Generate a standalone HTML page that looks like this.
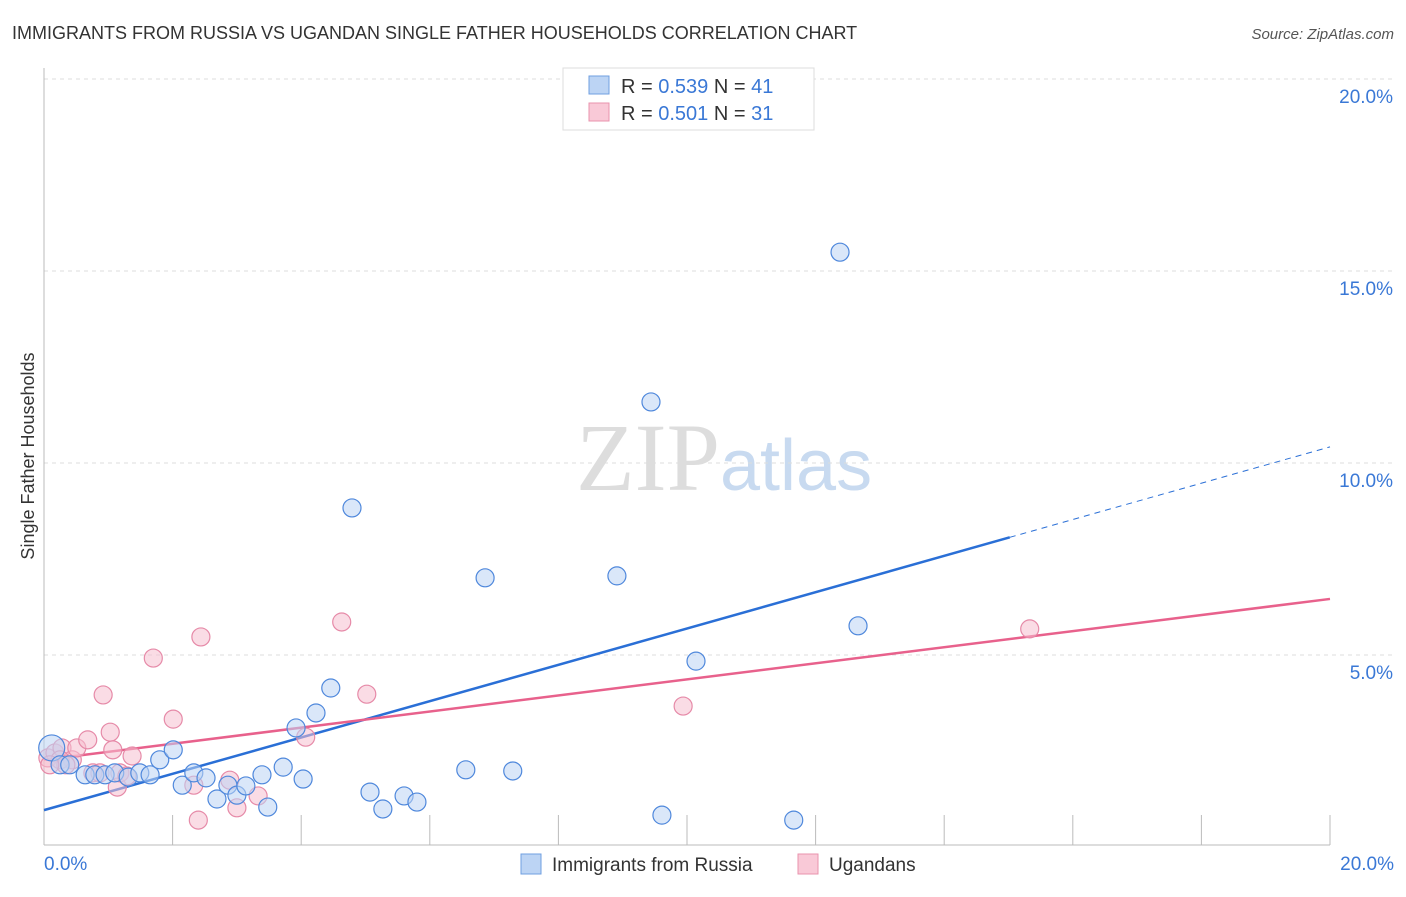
<!DOCTYPE html>
<html><head><meta charset="utf-8"><style>
body{margin:0;background:#fff;font-family:"Liberation Sans",sans-serif;}
</style></head><body>
<svg width="1406" height="892" viewBox="0 0 1406 892" xmlns="http://www.w3.org/2000/svg">
<text x="12" y="39" font-size="18" fill="#333">IMMIGRANTS FROM RUSSIA VS UGANDAN SINGLE FATHER HOUSEHOLDS CORRELATION CHART</text>
<text x="1394" y="39" font-size="15" fill="#555" font-style="italic" text-anchor="end">Source: ZipAtlas.com</text>
<text x="720" y="490" font-size="96" fill="#ddd" text-anchor="end" font-family="Liberation Serif,serif">ZIP</text>
<text x="720" y="490" font-size="72" fill="#c8daf0">atlas</text>
<g id="grid"></g>
<g id="ax"></g>
<g id="lines"></g>
<g id="pts"></g>
<text transform="translate(34,456) rotate(-90)" font-size="18" fill="#333" text-anchor="middle">Single Father Households</text>
<g>
<rect x="563" y="68" width="251" height="62" fill="#fff" stroke="#ddd"/>
<rect x="589" y="76" width="20" height="18" fill="#bcd4f4" stroke="#6f9fe0"/>
<text x="621" y="93" font-size="20" fill="#333">R = <tspan fill="#3a78d6">0.539</tspan>   N = <tspan fill="#3a78d6">41</tspan></text>
<rect x="589" y="103" width="20" height="18" fill="#f9c9d7" stroke="#e993ae"/>
<text x="621" y="120" font-size="20" fill="#333">R = <tspan fill="#3a78d6">0.501</tspan>   N = <tspan fill="#3a78d6">31</tspan></text>
</g>
<g>
<rect x="521" y="854" width="20" height="20" fill="#bcd4f4" stroke="#6f9fe0"/>
<text x="552" y="871" font-size="19" fill="#333">Immigrants from Russia</text>
<rect x="798" y="854" width="20" height="20" fill="#f9c9d7" stroke="#e993ae"/>
<text x="829" y="871" font-size="19" fill="#333">Ugandans</text>
</g>
</svg>
<script>
const yTicks=[5,10,15,20];
const yTickLabels=["5.0%","10.0%","15.0%","20.0%"];
const xTickLabels=["0.0%","20.0%"];
const russiaX=[0.12,0.25,0.40,0.64,0.79,0.95,1.10,1.31,1.49,1.65,1.80,2.01,2.15,2.33,2.52,2.69,2.86,3.00,3.14,3.39,3.48,3.72,3.92,4.03,4.23,4.46,4.79,5.07,5.27,5.60,5.80,6.56,6.86,7.29,8.91,9.44,9.61,10.14,11.66,12.38,12.66];
const russiaY=[2.58,2.14,2.14,1.88,1.88,1.88,1.93,1.82,1.93,1.88,2.27,2.53,1.61,1.93,1.80,1.25,1.61,1.35,1.59,1.88,1.04,2.08,3.10,1.77,3.49,4.14,8.83,1.43,0.99,1.33,1.17,2.01,7.01,1.98,7.06,11.59,0.83,4.84,0.70,15.49,5.76];
const ugandaX=[0.06,0.17,0.28,0.44,0.51,0.68,0.76,0.92,1.03,1.07,1.14,1.18,1.29,1.37,1.70,2.01,2.33,2.40,2.44,2.89,3.00,3.33,4.07,4.63,5.02,9.94,15.33,0.25,0.87,0.34,0.09];
const ugandaY=[2.32,2.45,2.58,2.27,2.58,2.79,1.93,3.96,2.99,2.53,1.56,1.93,1.85,2.37,4.92,3.33,1.61,0.70,5.47,1.74,1.02,1.33,2.86,5.86,3.98,3.67,5.68,2.27,1.93,2.14,2.14];
const russiaTrend=[0.96,0.473];
const ugandaTrend=[2.27,0.2095];
const NS="http://www.w3.org/2000/svg";
const sx=v=>44+v/20*1286, sy=v=>847-v/5*192;
function mk(t,a,p){const e=document.createElementNS(NS,t);for(const k in a)e.setAttribute(k,a[k]);document.getElementById(p).appendChild(e);return e;}
yTicks.forEach((t,i)=>{
 const g=mk('line',{x1:44,x2:1394,y1:sy(t),y2:sy(t),stroke:'#ddd','stroke-dasharray':'4,4'},'grid');
 
 
 const l=mk('text',{x:1393,y:sy(t)+24,'font-size':19,fill:'#3a78d6','text-anchor':'end'},'ax');l.textContent=yTickLabels[i];
 
 
});
mk('line',{x1:44,x2:44,y1:68,y2:845,stroke:'#bbb'},'ax');
mk('line',{x1:44,x2:1330,y1:845,y2:845,stroke:'#bbb'},'ax');
for(let i=1;i<=10;i++){const t=mk('line',{x1:sx(i*2),x2:sx(i*2),y1:815,y2:845,stroke:'#bbb'},'ax');
 
 }
[[0,'start',44],[1,'end',1394]].forEach(([i,a,x])=>{const l=mk('text',{x:x,y:870,'font-size':19,fill:'#3a78d6','text-anchor':a},'ax');l.textContent=xTickLabels[i];
 
 });
function dots(X,Y,f,s,n){X.forEach((x,i)=>{const c=mk('circle',{cx:sx(x),cy:sy(Y[i]),r:i==0&&n=='russia-point'?13:9,fill:f,'fill-opacity':0.55,stroke:s,'stroke-width':1.2},'pts');
 
 });}
dots(ugandaX,ugandaY,'#f6c0d0','#e68aa8','uganda-point');
dots(russiaX,russiaY,'#bcd4f4','#4f88dc','russia-point');
const r1=mk('line',{x1:sx(0),y1:sy(russiaTrend[0]),x2:sx(15.02),y2:sy(russiaTrend[0]+russiaTrend[1]*15.02),stroke:'#2a6fd6','stroke-width':2.5},'lines');


const r2=mk('line',{x1:sx(15.02),y1:sy(russiaTrend[0]+russiaTrend[1]*15.02),x2:sx(20),y2:sy(russiaTrend[0]+russiaTrend[1]*20),stroke:'#2a6fd6','stroke-width':1,'stroke-dasharray':'6,5'},'lines');


const u1=mk('line',{x1:sx(0),y1:sy(ugandaTrend[0]),x2:sx(20),y2:sy(ugandaTrend[0]+ugandaTrend[1]*20),stroke:'#e8618c','stroke-width':2.5},'lines');


</script>
</body></html>
